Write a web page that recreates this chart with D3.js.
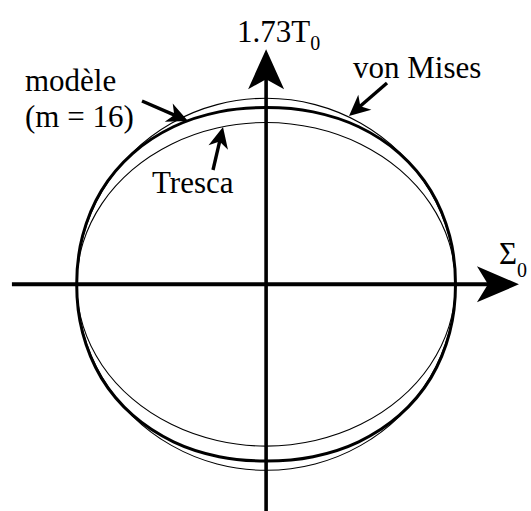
<!DOCTYPE html>
<html>
<head>
<meta charset="utf-8">
<script src="https://cdn.jsdelivr.net/npm/d3@7"></script>
<style>
  html, body { margin: 0; padding: 0; background: #fff; }
  svg { display: block; }
  svg text { font-family: "Times New Roman", Times, "Liberation Serif", Tinos, "DejaVu Serif", serif; }
</style>
</head>
<body>
<svg id="chart" width="531" height="511"></svg>
<script>
// ---- data (upper-right quadrant, σ/Σ0 and 1.73T/T0 units; figure is symmetric) ----
const vonMisesQuad = [[1, 0], [0.966, 0.259], [0.866, 0.5], [0.707, 0.707], [0.5, 0.866], [0.259, 0.966], [0, 1]];
const trescaQuad   = [[1, 0], [0.966, 0.225], [0.866, 0.435], [0.707, 0.615], [0.5, 0.753], [0.259, 0.840], [0, 0.87]];
const modelQuad    = [[1, 0], [0.969, 0.260], [0.870, 0.503], [0.704, 0.704], [0.489, 0.847], [0.248, 0.927], [0, 0.95]];
const curveNames   = ["von Mises", "Tresca", "modèle (m = 16)"];
const axisLabelX   = "Σ";
const axisLabelY   = "1.73T";
const axisSub      = "0";

// ---- layout ----
const svg = d3.select("#chart");
const cx = 266.1, cy = 284.3, rx = 189.4, ry = 186;
const x = d3.scaleLinear().domain([-1, 1]).range([cx - rx, cx + rx]);
const y = d3.scaleLinear().domain([-1, 1]).range([cy + ry, cy - ry]);

function mirror(q) {
  const ur = q;
  const ul = q.slice().reverse().map(([a, b]) => [-a, b]).slice(1);
  const ll = q.map(([a, b]) => [-a, -b]).slice(1);
  const lr = q.slice().reverse().map(([a, b]) => [a, -b]).slice(1, -1);
  return ur.concat(ul, ll, lr);
}

const line = d3.line().x(d => x(d[0])).y(d => y(d[1])).curve(d3.curveCatmullRomClosed.alpha(0.5));

svg.append("path").attr("d", line(mirror(vonMisesQuad)))
  .attr("fill", "none").attr("stroke", "#000").attr("stroke-width", 1.1);
svg.append("path").attr("d", line(mirror(trescaQuad)))
  .attr("fill", "none").attr("stroke", "#000").attr("stroke-width", 1.1);
svg.append("path").attr("d", line(mirror(modelQuad)))
  .attr("fill", "none").attr("stroke", "#000").attr("stroke-width", 3);

// ---- axes ----
function arrowHead(tipX, tipY, dx, dy, len, half, notch) {
  const L = Math.hypot(dx, dy), ux = dx / L, uy = dy / L, px = -uy, py = ux;
  const bx = tipX - ux * len, by = tipY - uy * len;
  const nx = tipX - ux * (len - notch), ny = tipY - uy * (len - notch);
  return `M${tipX},${tipY}L${bx + px * half},${by + py * half}L${nx},${ny}L${bx - px * half},${by - py * half}Z`;
}

const xAxisStart = x(-1.342), xAxisEnd = x(1.335);
svg.append("line").attr("x1", xAxisStart).attr("y1", y(0)).attr("x2", xAxisEnd - 20).attr("y2", y(0))
  .attr("stroke", "#000").attr("stroke-width", 4);
svg.append("path").attr("d", arrowHead(xAxisEnd, y(0), 1, 0, 42, 18, 11)).attr("fill", "#000");

const yAxisTop = y(1.264), yAxisBottom = 511;
svg.append("line").attr("x1", x(0)).attr("y1", yAxisBottom).attr("x2", x(0)).attr("y2", yAxisTop + 20)
  .attr("stroke", "#000").attr("stroke-width", 3.6);
svg.append("path").attr("d", arrowHead(x(0), yAxisTop, 0, -1, 40, 18, 10)).attr("fill", "#000");

// ---- annotation arrows ----
const annotations = [
  { from: [142, 101], to: [188, 121] },
  { from: [387, 83], to: [349, 116] },
  { from: [213, 170], to: [223, 127] }
];
annotations.forEach(a => {
  const dx = a.to[0] - a.from[0], dy = a.to[1] - a.from[1];
  const L = Math.hypot(dx, dy);
  const ex = a.to[0] - dx / L * 14, ey = a.to[1] - dy / L * 14;
  svg.append("line").attr("x1", a.from[0]).attr("y1", a.from[1]).attr("x2", ex).attr("y2", ey)
    .attr("stroke", "#000").attr("stroke-width", 3.4);
  svg.append("path").attr("d", arrowHead(a.to[0], a.to[1], dx, dy, 21, 10, 6)).attr("fill", "#000");
});

// ---- labels ----
const fs = 31, fsSub = 20;
const yl = svg.append("text").attr("x", 237).attr("y", 42).style("font-size", fs + "px");
yl.append("tspan").text(axisLabelY);
yl.append("tspan").style("font-size", fsSub + "px").attr("dy", 8).text(axisSub);

const xl = svg.append("text").attr("x", 499).attr("y", 264).style("font-size", fs + "px");
xl.append("tspan").text(axisLabelX);
xl.append("tspan").style("font-size", fsSub + "px").attr("dy", 13).text(axisSub);

svg.append("text").attr("x", 353).attr("y", 78).style("font-size", fs + "px").text(curveNames[0]);
svg.append("text").attr("x", 152).attr("y", 193).style("font-size", fs + "px").text(curveNames[1]);
svg.append("text").attr("x", 25).attr("y", 91).style("font-size", fs + "px").text("modèle");
svg.append("text").attr("x", 25).attr("y", 127).style("font-size", fs + "px").text("(m = 16)");
</script>
</body>
</html>
